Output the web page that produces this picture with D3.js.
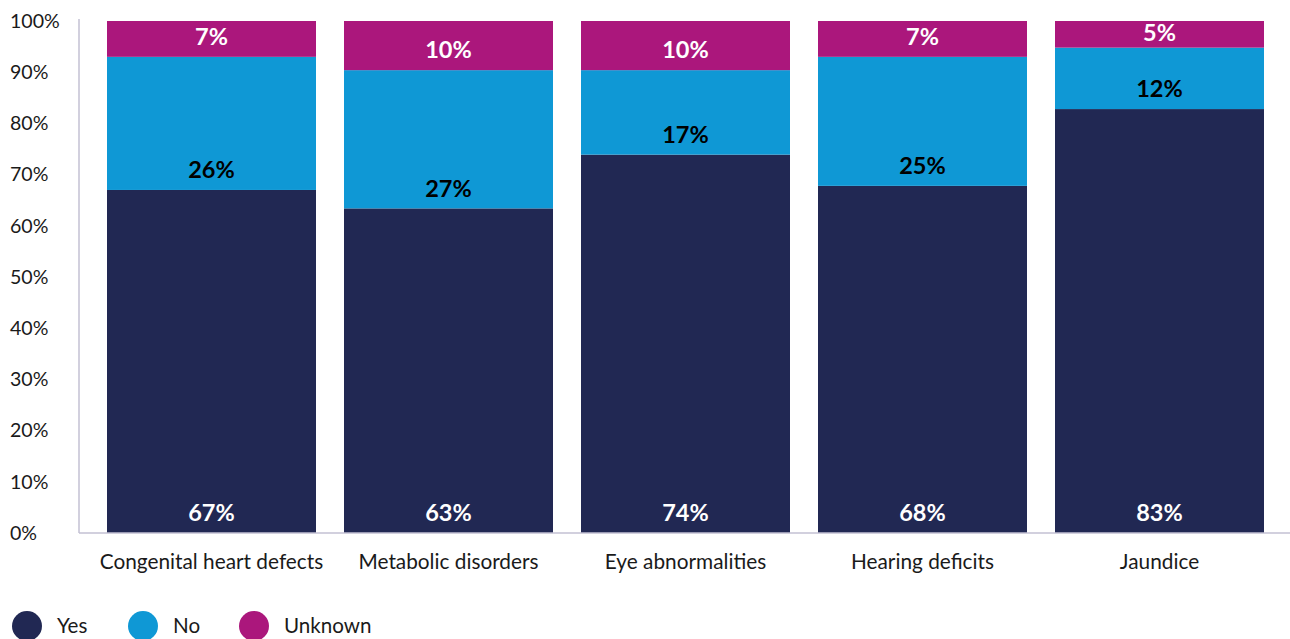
<!DOCTYPE html>
<html>
<head>
<meta charset="utf-8">
<script src="https://cdn.jsdelivr.net/npm/d3@7"></script>
<style>
  html, body { margin: 0; padding: 0; background: #ffffff; }
  svg { display: block; font-family: "Lato", "Open Sans", sans-serif; }
</style>
</head>
<body>
<svg id="chart" width="1290" height="639"></svg>
<script>
// Newborn screening conditions and share of responses
const categories = ["Congenital heart defects", "Metabolic disorders", "Eye abnormalities", "Hearing deficits", "Jaundice"];
const yesValues = [67.0, 63.4, 73.9, 67.8, 82.8];
const noValues = [26.0, 27.0, 16.5, 25.2, 12.0];
const unknownValues = [7.0, 9.6, 9.6, 7.0, 5.2];
const seriesNames = ["Yes", "No", "Unknown"];
const seriesColors = ["#212853", "#0f98d5", "#ab177c"];
const labelColors = ["#ffffff", "#000000", "#ffffff"];
const yTicks = [0, 10, 20, 30, 40, 50, 60, 70, 80, 90, 100];

const rows = categories.map((c, i) => ({
  category: c,
  Yes: yesValues[i],
  No: noValues[i],
  Unknown: unknownValues[i]
}));

const svg = d3.select("#chart");
const plotLeft = 79, plotRight = 1292, plotTop = 21, plotBottom = 533;

const x = d3.scaleBand()
  .domain(categories)
  .range([plotLeft, plotRight])
  .paddingInner(28 / 237)
  .paddingOuter(28 / 237);

const y = d3.scaleLinear().domain([0, 100]).range([plotBottom, plotTop]);
const color = d3.scaleOrdinal().domain(seriesNames).range(seriesColors);
const labelColor = d3.scaleOrdinal().domain(seriesNames).range(labelColors);

const stacked = d3.stack().keys(seriesNames)(rows);

// y tick labels, left-aligned
svg.append("g")
  .selectAll("text")
  .data(yTicks)
  .join("text")
  .attr("x", 10)
  .attr("y", d => y(d))
  .attr("dy", "0.35em")
  .attr("font-size", 19.6)
  .attr("fill", "#1a1a1a")
  .text(d => d + "%");

// stacked segments
const layers = svg.append("g")
  .selectAll("g")
  .data(stacked)
  .join("g")
  .attr("fill", d => color(d.key));

layers.selectAll("rect")
  .data(d => d)
  .join("rect")
  .attr("x", d => x(d.data.category))
  .attr("width", x.bandwidth())
  .attr("y", d => y(d[1]))
  .attr("height", d => y(d[0]) - y(d[1]));

// value labels near the bottom of each segment
const labels = svg.append("g")
  .selectAll("g")
  .data(stacked)
  .join("g")
  .attr("fill", d => labelColor(d.key));

labels.selectAll("text")
  .data(d => d)
  .join("text")
  .attr("x", d => x(d.data.category) + x.bandwidth() / 2)
  .attr("y", d => Math.max(y(d[0]) - 20, y(d[1]) + 12))
  .attr("dy", "0.35em")
  .attr("text-anchor", "middle")
  .attr("font-size", 23.5)
  .attr("font-weight", "bold")
  .text(d => Math.round(d[1] - d[0]) + "%");

// axis lines
const axisColor = "#c3c1d3";
svg.append("line")
  .attr("x1", plotLeft).attr("x2", plotLeft)
  .attr("y1", 19).attr("y2", plotBottom)
  .attr("stroke", axisColor).attr("stroke-width", 1.5);
svg.append("line")
  .attr("x1", plotLeft).attr("x2", plotRight)
  .attr("y1", plotBottom).attr("y2", plotBottom)
  .attr("stroke", axisColor).attr("stroke-width", 1.5);

// category labels
svg.append("g")
  .selectAll("text")
  .data(categories)
  .join("text")
  .attr("x", d => x(d) + x.bandwidth() / 2)
  .attr("y", 562)
  .attr("dy", "0.35em")
  .attr("text-anchor", "middle")
  .attr("font-size", 20.8)
  .attr("fill", "#1a1a1a")
  .text(d => d);

// legend
const legendX = [27, 143, 254];
const legend = svg.append("g")
  .selectAll("g")
  .data(seriesNames)
  .join("g")
  .attr("transform", (d, i) => `translate(${legendX[i]},626)`);
legend.append("circle").attr("r", 15).attr("fill", d => color(d));
legend.append("text")
  .attr("x", 30)
  .attr("dy", "0.35em")
  .attr("font-size", 20.6)
  .attr("fill", "#1a1a1a")
  .text(d => d);
</script>
</body>
</html>
